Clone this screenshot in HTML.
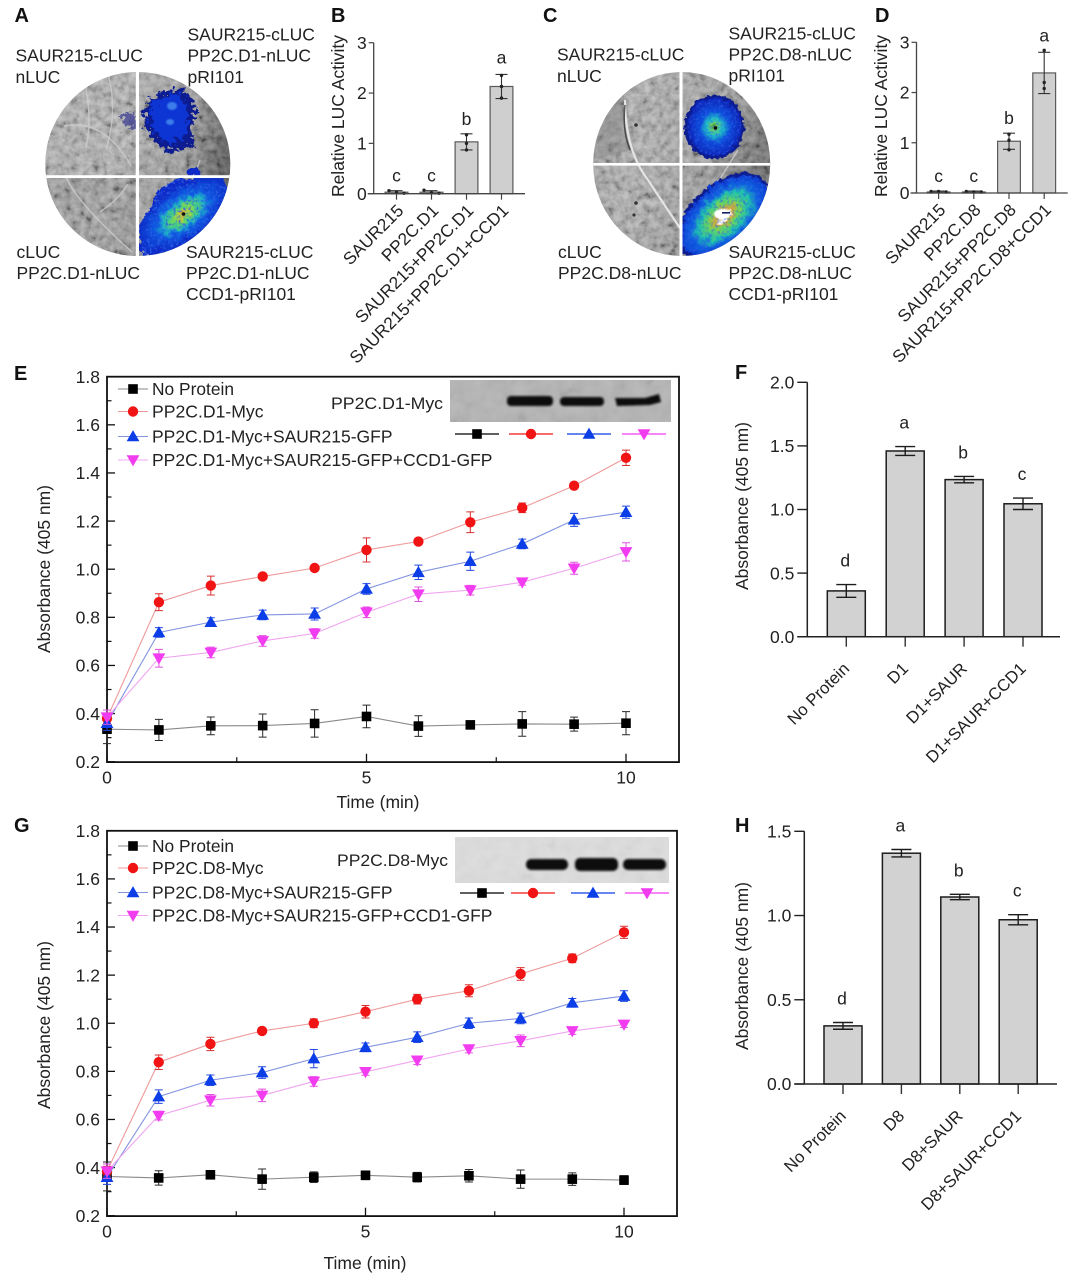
<!DOCTYPE html>
<html>
<head>
<meta charset="utf-8">
<title>LUC activity and absorbance figure</title>
<style>
html,body{margin:0;padding:0;background:#fff;}
svg{display:block;font-family:"Liberation Sans",sans-serif;}
text{fill:#222;}
</style>
</head>
<body>
<svg id="figure" xmlns="http://www.w3.org/2000/svg" width="1080" height="1276" viewBox="0 0 1080 1276">
<defs>
<filter id="leafNoise" x="0" y="0" width="100%" height="100%">
<feTurbulence type="fractalNoise" baseFrequency="0.14" numOctaves="4" seed="4"/>
<feColorMatrix type="matrix" values="1.1 1.1 0 0 -0.6 1.1 1.1 0 0 -0.6 1.1 1.1 0 0 -0.6 0 0 0 0 0.34"/>
</filter>
<filter id="blotNoise" x="0" y="0" width="100%" height="100%">
<feTurbulence type="fractalNoise" baseFrequency="0.07" numOctaves="3" seed="9"/>
<feColorMatrix type="matrix" values="1.2 1.2 0 0 -0.7 1.2 1.2 0 0 -0.7 1.2 1.2 0 0 -0.7 0 0 0 0 0.55"/>
</filter>
<filter id="rough" x="-20%" y="-20%" width="140%" height="140%">
<feTurbulence type="fractalNoise" baseFrequency="0.16" numOctaves="3" seed="7"/>
<feDisplacementMap in="SourceGraphic" scale="12" xChannelSelector="R" yChannelSelector="G"/>
</filter>
<filter id="rough3" x="-30%" y="-30%" width="160%" height="160%">
<feTurbulence type="fractalNoise" baseFrequency="0.2" numOctaves="3" seed="3"/>
<feDisplacementMap in="SourceGraphic" scale="17" xChannelSelector="R" yChannelSelector="G"/>
</filter>
<filter id="rough2" x="-20%" y="-20%" width="140%" height="140%">
<feTurbulence type="fractalNoise" baseFrequency="0.22" numOctaves="2" seed="11"/>
<feDisplacementMap in="SourceGraphic" scale="7" xChannelSelector="R" yChannelSelector="G"/>
</filter>
<filter id="speckle" x="0" y="0" width="100%" height="100%">
<feTurbulence type="fractalNoise" baseFrequency="0.38" numOctaves="2" seed="5"/>
<feColorMatrix type="matrix" values="0 0 0 0 0.03 0 0 0 0 0.12 0 0 0 0 0.8 3.2 3.2 0 0 -3.2"/>
<feComposite operator="in" in2="SourceGraphic"/>
</filter>
<filter id="bandBlur" x="-10%" y="-50%" width="120%" height="200%"><feGaussianBlur stdDeviation="1.1"/></filter>
<filter id="soft" x="-10%" y="-10%" width="120%" height="120%"><feGaussianBlur stdDeviation="0.7"/></filter>
<clipPath id="clipA"><ellipse cx="137.8" cy="164" rx="92.5" ry="92"/></clipPath>
<clipPath id="clipC"><ellipse cx="681.7" cy="164" rx="88.5" ry="92"/></clipPath>
<clipPath id="clipABR"><rect x="139" y="177" width="95" height="82"/></clipPath>
<clipPath id="clipCBR"><rect x="682" y="165" width="95" height="95"/></clipPath>
<linearGradient id="leafAShade" x1="0" y1="0" x2="1" y2="0.2">
<stop offset="0" stop-color="#a6a6a6"/><stop offset="0.45" stop-color="#aaaaaa"/><stop offset="0.8" stop-color="#8c8c8c"/><stop offset="1" stop-color="#3e3e3e"/>
</linearGradient>
<linearGradient id="leafCShade" x1="0" y1="0" x2="1" y2="0.3">
<stop offset="0" stop-color="#999999"/><stop offset="0.4" stop-color="#a8a8a8"/><stop offset="0.75" stop-color="#8e8e8e"/><stop offset="1" stop-color="#565656"/>
</linearGradient>
<radialGradient id="hotA">
<stop offset="0" stop-color="#d89a30"/><stop offset="0.12" stop-color="#b8d040"/><stop offset="0.28" stop-color="#5ad868"/><stop offset="0.46" stop-color="#1cb0c8"/><stop offset="0.62" stop-color="#0c58e0"/><stop offset="1" stop-color="#0a2cc8"/>
</radialGradient>
<radialGradient id="hotC">
<stop offset="0" stop-color="#ffffff"/><stop offset="0.14" stop-color="#ffffff"/><stop offset="0.2" stop-color="#d8a838"/><stop offset="0.36" stop-color="#66d860"/><stop offset="0.58" stop-color="#1ec0b0"/><stop offset="0.76" stop-color="#1060e0"/><stop offset="1" stop-color="#0a38d0"/>
</radialGradient>
<radialGradient id="warmC">
<stop offset="0" stop-color="#2a7030"/><stop offset="0.1" stop-color="#70d060"/><stop offset="0.3" stop-color="#20c0c8"/><stop offset="0.55" stop-color="#0c4cdc"/><stop offset="1" stop-color="#0a24b8"/>
</radialGradient>
</defs>
<rect x="0" y="0" width="1080" height="1276" fill="#ffffff"/>

<g>
<g clip-path="url(#clipA)">
<rect x="44" y="70" width="190" height="190" fill="url(#leafAShade)"/>
<rect x="44" y="177" width="94" height="82" fill="#6e6e6e" opacity="0.35"/>
<rect x="44" y="70" width="190" height="190" filter="url(#leafNoise)"/>
<g fill="none" stroke="#d2d2d2" stroke-width="1.5" opacity="0.7">
<path d="M64 126 Q104 118 131 166"/><path d="M86 90 Q92 120 86 148"/><path d="M66 176 Q74 200 132 252"/><path d="M100 212 Q118 200 128 184"/><path d="M150 254 Q190 190 200 160"/><path d="M108 74 Q118 110 106 150"/>
</g>
<path d="M122 112 L134 112 L136 128 L124 128 Z" fill="#24248a" filter="url(#rough3)" opacity="0.6"/>
<path d="M160 92 L184 88 L194 104 L194 128 L192 146 L172 152 L158 146 L146 128 L144 108 Z" fill="#0a1c90" filter="url(#rough3)"/>
<path d="M162 96 L182 94 L188 112 L186 134 L170 146 L152 128 L148 110 Z" fill="#0c34d4" filter="url(#rough3)"/>
<ellipse cx="172" cy="106" rx="5" ry="4" fill="#4a90f0" opacity="0.8" filter="url(#soft)"/>
<ellipse cx="170" cy="122" rx="4" ry="3" fill="#4a90f0" opacity="0.8" filter="url(#soft)"/>
<g clip-path="url(#clipABR)">
<path d="M140 256 L146 228 L158 190 L178 178 L226 186 L232 210 L208 238 L170 254 Z" fill="#0a2cc8" filter="url(#rough)"/>
<ellipse cx="183" cy="214" rx="52" ry="26" transform="rotate(-36 183 214)" fill="url(#hotA)" filter="url(#rough)"/>
<path d="M140 256 L146 228 L158 190 L178 178 L226 186 L232 210 L208 238 L170 254 Z" fill="#fff" filter="url(#speckle)" opacity="0.8"/>
</g>
<ellipse cx="194" cy="172" rx="7" ry="4" fill="#0a2cc8" filter="url(#rough2)"/>
<circle cx="183.500" cy="214" r="1.800" fill="#111"/>
<rect x="135.800" y="68" width="3.200" height="192" fill="#ffffff"/>
<rect x="44" y="175.200" width="190" height="2.800" fill="#ffffff"/>
</g>
</g>

<g>
<g clip-path="url(#clipC)">
<rect x="590" y="70" width="184" height="190" fill="url(#leafCShade)"/>
<rect x="590" y="70" width="184" height="190" filter="url(#leafNoise)"/>
<path d="M626 78 Q620 120 632 150 L592 160 L592 80 Z" fill="#777" opacity="0.35"/>
<path d="M625 100 Q625 150 648 180 Q665 206 680 228" fill="none" stroke="#e4e4e4" stroke-width="2.200"/>
<path d="M625 105 Q622 130 630 150" fill="none" stroke="#2c2c2c" stroke-width="1.500" opacity="0.75"/>
<path d="M686 236 Q714 188 738 150" fill="none" stroke="#d4d4d4" stroke-width="1.500" opacity="0.7"/>
<circle cx="636" cy="125" r="1.800" fill="#333"/><circle cx="636" cy="203" r="1.800" fill="#333"/><circle cx="634" cy="215" r="1.600" fill="#333"/>
<ellipse cx="714.500" cy="127" rx="30" ry="32" fill="#0a1c90" filter="url(#rough2)"/>
<ellipse cx="714.500" cy="127" rx="27" ry="29" fill="url(#warmC)" filter="url(#rough2)"/>
<ellipse cx="714.500" cy="127" rx="27" ry="29" fill="#fff" filter="url(#speckle)" opacity="0.55"/>
<circle cx="715.500" cy="128" r="1.800" fill="#111"/>
<g clip-path="url(#clipCBR)">
<ellipse cx="723" cy="217" rx="55" ry="33" transform="rotate(-42 723 217)" fill="#0a1c90" filter="url(#rough2)"/>
<ellipse cx="724" cy="216" rx="52" ry="30" transform="rotate(-42 724 216)" fill="url(#hotC)" filter="url(#rough)"/>
<ellipse cx="724" cy="216" rx="52" ry="30" transform="rotate(-42 724 216)" fill="#fff" filter="url(#speckle)" opacity="0.6"/>
</g>
<ellipse cx="722" cy="214" rx="8" ry="5" fill="#ffffff" filter="url(#soft)"/>
<rect x="722" y="212" width="8" height="1.600" fill="#142060"/>
<rect x="679.500" y="68" width="3" height="192" fill="#ffffff"/>
<rect x="590" y="163" width="184" height="2.600" fill="#ffffff"/>
</g>
</g>

<g font-size="17.500">
<text x="14.500" y="22" font-size="20" font-weight="bold" style="fill:#111">A</text>
<text x="15.500" y="61.300">SAUR215-cLUC</text>
<text x="15.500" y="83">nLUC</text>
<text x="187.500" y="40.500">SAUR215-cLUC</text>
<text x="187.500" y="61.500">PP2C.D1-nLUC</text>
<text x="187.500" y="83">pRI101</text>
<text x="16.500" y="258">cLUC</text>
<text x="16.500" y="279">PP2C.D1-nLUC</text>
<text x="186" y="258">SAUR215-cLUC</text>
<text x="186" y="279">PP2C.D1-nLUC</text>
<text x="186" y="300">CCD1-pRI101</text>
</g>
<g font-size="17.500">
<text x="543" y="22" font-size="20" font-weight="bold" style="fill:#111">C</text>
<text x="557" y="60.500">SAUR215-cLUC</text>
<text x="557" y="82">nLUC</text>
<text x="728.500" y="39.500">SAUR215-cLUC</text>
<text x="728.500" y="60.500">PP2C.D8-nLUC</text>
<text x="728.500" y="81.500">pRI101</text>
<text x="558" y="258">cLUC</text>
<text x="558" y="279">PP2C.D8-nLUC</text>
<text x="728.500" y="258">SAUR215-cLUC</text>
<text x="728.500" y="279">PP2C.D8-nLUC</text>
<text x="728.500" y="300">CCD1-pRI101</text>
</g>

<g>
<rect x="450" y="380" width="221" height="42" fill="#b4b4b4"/>
<rect x="450" y="380" width="221" height="42" filter="url(#blotNoise)" opacity="0.12"/>
<rect x="507" y="396" width="46" height="10" rx="4" fill="#0c0c0c" filter="url(#bandBlur)"/>
<rect x="560" y="397" width="44" height="9" rx="4" fill="#0c0c0c" filter="url(#bandBlur)"/>
<path d="M615 398 L645 398 L659 394 L661 402 L650 405 L617 406 Z" fill="#0c0c0c" filter="url(#bandBlur)"/>
<text x="331" y="409" font-size="17" textLength="112" lengthAdjust="spacingAndGlyphs">PP2C.D1-Myc</text>
</g>
<g>
<rect x="455" y="837" width="214" height="46" fill="#dcdcdc"/>
<rect x="455" y="837" width="214" height="46" filter="url(#blotNoise)" opacity="0.08"/>
<rect x="526" y="859" width="42" height="11" rx="5" fill="#0c0c0c" filter="url(#bandBlur)"/>
<rect x="575" y="858" width="43" height="13" rx="5" fill="#0c0c0c" filter="url(#bandBlur)"/>
<rect x="623" y="859" width="43" height="11" rx="5" fill="#0c0c0c" filter="url(#bandBlur)"/>
<text x="337" y="866" font-size="17" textLength="111" lengthAdjust="spacingAndGlyphs">PP2C.D8-Myc</text>
</g>
<g id="charts"></g>
</svg>

<script>
// ---- Panel B: relative LUC activity ----
const bCategories = ['SAUR215', 'PP2C.D1', 'SAUR215+PP2C.D1', 'SAUR215+PP2C.D1+CCD1'];
const bValues = [0.03, 0.03, 1.03, 2.13];
const bErrors = [0.03, 0.03, 0.16, 0.24];
const bLetters = ['c', 'c', 'b', 'a'];
const bDotsA = [0.06, 0.07, 0.87, 1.90];
const bDotsB = [0.03, 0.02, 1.00, 2.13];
const bDotsC = [0.01, 0.01, 1.17, 2.35];
const bTicks = [0, 1, 2, 3];

// ---- Panel D: relative LUC activity ----
const dCategories = ['SAUR215', 'PP2C.D8', 'SAUR215+PP2C.D8', 'SAUR215+PP2C.D8+CCD1'];
const dValues = [0.02, 0.02, 1.03, 2.39];
const dErrors = [0.02, 0.02, 0.16, 0.41];
const dLetters = ['c', 'c', 'b', 'a'];
const dDotsA = [0.03, 0.03, 0.86, 2.84];
const dDotsB = [0.03, 0.02, 1.05, 2.20];
const dDotsC = [0.02, 0.02, 1.17, 2.08];
const dTicks = [0, 1, 2, 3];

// ---- Panel E: time course ----
const eTime = [0, 1, 2, 3, 4, 5, 6, 7, 8, 9, 10];
const eLegend = ['No Protein', 'PP2C.D1-Myc', 'PP2C.D1-Myc+SAUR215-GFP', 'PP2C.D1-Myc+SAUR215-GFP+CCD1-GFP'];
const eBlack = [0.335, 0.332, 0.349, 0.350, 0.359, 0.388, 0.348, 0.353, 0.357, 0.356, 0.360];
const eBlackErr = [0.060, 0.044, 0.037, 0.048, 0.057, 0.047, 0.043, 0.012, 0.051, 0.029, 0.048];
const eRed = [0.380, 0.863, 0.932, 0.970, 1.005, 1.080, 1.115, 1.195, 1.255, 1.347, 1.463];
const eRedErr = [0.020, 0.035, 0.039, 0.012, 0.010, 0.050, 0.012, 0.043, 0.020, 0.012, 0.032];
const eBlue = [0.360, 0.737, 0.780, 0.810, 0.814, 0.918, 0.987, 1.033, 1.105, 1.205, 1.237];
const eBlueErr = [0.030, 0.020, 0.018, 0.020, 0.025, 0.022, 0.030, 0.038, 0.020, 0.027, 0.025];
const eMagenta = [0.385, 0.630, 0.654, 0.702, 0.733, 0.821, 0.896, 0.913, 0.946, 1.004, 1.072];
const eMagentaErr = [0.030, 0.037, 0.022, 0.022, 0.020, 0.022, 0.030, 0.020, 0.012, 0.025, 0.038];

// ---- Panel G: time course ----
const gTime = [0, 1, 2, 3, 4, 5, 6, 7, 8, 9, 10];
const gLegend = ['No Protein', 'PP2C.D8-Myc', 'PP2C.D8-Myc+SAUR215-GFP', 'PP2C.D8-Myc+SAUR215-GFP+CCD1-GFP'];
const gBlack = [0.363, 0.357, 0.370, 0.352, 0.360, 0.368, 0.360, 0.366, 0.352, 0.352, 0.348];
const gBlackErr = [0.060, 0.030, 0.015, 0.042, 0.022, 0.018, 0.020, 0.026, 0.038, 0.026, 0.018];
const gRed = [0.385, 0.838, 0.914, 0.968, 1.000, 1.048, 1.100, 1.135, 1.205, 1.270, 1.378];
const gRedErr = [0.020, 0.030, 0.028, 0.012, 0.018, 0.026, 0.020, 0.025, 0.026, 0.018, 0.025];
const gBlue = [0.360, 0.695, 0.763, 0.795, 0.853, 0.900, 0.942, 1.000, 1.020, 1.085, 1.113];
const gBlueErr = [0.030, 0.028, 0.022, 0.024, 0.038, 0.018, 0.022, 0.022, 0.022, 0.018, 0.022];
const gMagenta = [0.385, 0.616, 0.680, 0.700, 0.758, 0.798, 0.846, 0.893, 0.927, 0.968, 0.995];
const gMagentaErr = [0.030, 0.018, 0.024, 0.026, 0.020, 0.014, 0.018, 0.016, 0.024, 0.014, 0.012];

// ---- Panel F: absorbance bars ----
const fCategories = ['No Protein', 'D1', 'D1+SAUR', 'D1+SAUR+CCD1'];
const fValues = [0.36, 1.46, 1.235, 1.045];
const fErrors = [0.05, 0.035, 0.025, 0.045];
const fLetters = ['d', 'a', 'b', 'c'];
const fTicks = ['0.0', '0.5', '1.0', '1.5', '2.0'];

// ---- Panel H: absorbance bars ----
const hCategories = ['No Protein', 'D8', 'D8+SAUR', 'D8+SAUR+CCD1'];
const hValues = [0.345, 1.37, 1.11, 0.975];
const hErrors = [0.02, 0.022, 0.016, 0.03];
const hLetters = ['d', 'a', 'b', 'c'];
const hTicks = ['0.0', '0.5', '1.0', '1.5'];

const lineYTicks = ['0.2', '0.4', '0.6', '0.8', '1.0', '1.2', '1.4', '1.6', '1.8'];
const lineYMinor = [0.3, 0.5, 0.7, 0.9, 1.1, 1.3, 1.5, 1.7];
const lineXTicks = [0, 5, 10];
const lineXMinor = [2.5, 7.5];

const NS = 'http://www.w3.org/2000/svg';
const root = document.getElementById('charts');

function el(tag, attrs, parent) {
  const e = document.createElementNS(NS, tag);
  for (const k in attrs) e.setAttribute(k, attrs[k]);
  parent.appendChild(e);
  return e;
}
function label(s, x, y, attrs, parent) {
  const e = el('text', Object.assign({x: x, y: y}, attrs), parent);
  e.textContent = s;
  return e;
}
function scale(d0, d1, r0, r1) {
  return function (v) { return r0 + (v - d0) * (r1 - r0) / (d1 - d0); };
}
function marker(kind, x, y, color, parent) {
  if (kind === 'square') return el('rect', {x: x - 4.8, y: y - 4.8, width: 9.6, height: 9.6, fill: color}, parent);
  if (kind === 'circle') return el('circle', {cx: x, cy: y, r: 5.2, fill: color}, parent);
  if (kind === 'up') return el('polygon', {points: (x - 6.4) + ',' + (y + 4.8) + ' ' + (x + 6.4) + ',' + (y + 4.8) + ' ' + x + ',' + (y - 6.4), fill: color}, parent);
  return el('polygon', {points: (x - 6.4) + ',' + (y - 4.8) + ' ' + (x + 6.4) + ',' + (y - 4.8) + ' ' + x + ',' + (y + 6.4), fill: color}, parent);
}

// small LUC bar chart (panels B, D)
function drawLucChart(o) {
  const g = el('g', {}, root);
  
  
  const y = scale(0, 3, o.y0, o.y3);
  const letter = label(o.letter, o.letterX, 22, {'font-size': 20, 'font-weight': 'bold', style: 'fill:#111'}, g);
  
  
  const title = label('Relative LUC Activity', 0, 0, {'font-size': 17.5, 'text-anchor': 'middle', transform: 'translate(' + o.titleX + ',116) rotate(-90)', textLength: 162, lengthAdjust: 'spacingAndGlyphs'}, g);
  
  
  o.values.forEach(function (v, i) {
    const cx = o.centers[0] + i * o.step;
    const bar = el('rect', {x: cx - 11.4, y: y(v), width: 22.8, height: o.y0 - y(v), fill: '#cfcfcf', stroke: '#5a5a5a', 'stroke-width': 1.2}, g);
    
    
    const errPath = 'M' + cx + ' ' + y(v + o.errors[i]) + 'V' + y(Math.max(0, v - o.errors[i])) +
      'M' + (cx - 6) + ' ' + y(v + o.errors[i]) + 'h12M' + (cx - 6) + ' ' + y(Math.max(0, v - o.errors[i])) + 'h12';
    const err = el('path', {d: errPath, fill: 'none', stroke: '#333', 'stroke-width': 1.1}, g);
    
    
    const group = [o.dotsA[i], o.dotsB[i], o.dotsC[i]];
    const spread = Math.max.apply(null, group) - Math.min.apply(null, group);
    group.forEach(function (d, j) {
      const dot = el('circle', {cx: cx + (spread < 0.2 ? (j - 1) * 7.5 : 0), cy: y(d), r: 1.7, fill: '#222'}, g);
      
      
    });
    const sig = label(o.letters[i], cx, y(v + o.errors[i]) - (v > 2 ? 11 : 9), {'font-size': 17.5, 'text-anchor': 'middle'}, g);
    
    
    const tick = el('line', {x1: cx, x2: cx, y1: o.y0, y2: o.y0 + 6, stroke: '#444', 'stroke-width': 1.2}, g);
    
    
    const cat = label(o.categories[i], 0, 0, {'font-size': 17.3, 'text-anchor': 'end', transform: 'translate(' + (cx + 8) + ',' + (o.y0 + 18) + ') rotate(-45)'}, g);
    
    
  });
  const axes = el('path', {d: 'M' + o.left + ' ' + o.y3 + 'V' + o.y0 + 'M' + (o.left - 6) + ' ' + o.y0 + 'H' + o.right, fill: 'none', stroke: '#444', 'stroke-width': 1.3}, g);
  
  
  o.ticks.forEach(function (t) {
    const tick = el('line', {x1: o.left - 5, x2: o.left, y1: y(t), y2: y(t), stroke: '#444', 'stroke-width': 1.2}, g);
    
    
    const tl = label(String(t), o.left - 7, y(t) + 6.2, {'font-size': 17.5, 'text-anchor': 'end'}, g);
    
    
  });
}

// absorbance bar chart (panels F, H)
function drawAbsChart(o) {
  const g = el('g', {}, root);
  
  
  const y = scale(0, Number(o.ticks[o.ticks.length - 1]), o.y0, o.yTop);
  const letter = label(o.letter, o.letterX, o.letterY, {'font-size': 20, 'font-weight': 'bold', style: 'fill:#111'}, g);
  
  
  const title = label('Absorbance (405 nm)', 0, 0, {'font-size': 17.5, 'text-anchor': 'middle', transform: 'translate(' + o.titleX + ',' + o.titleY + ') rotate(-90)', textLength: 168, lengthAdjust: 'spacingAndGlyphs'}, g);
  
  
  o.values.forEach(function (v, i) {
    const cx = o.c0 + i * o.step;
    const bar = el('rect', {x: cx - 19, y: y(v), width: 38, height: o.y0 - y(v), fill: '#d2d2d2', stroke: '#1c1c1c', 'stroke-width': 1.5}, g);
    
    
    const hi = y(v + o.errors[i]);
    const lo = y(v - o.errors[i]);
    const err = el('path', {d: 'M' + cx + ' ' + hi + 'V' + lo + 'M' + (cx - 10) + ' ' + hi + 'h20M' + (cx - 10) + ' ' + lo + 'h20', fill: 'none', stroke: '#1c1c1c', 'stroke-width': 1.4}, g);
    
    
    const sig = label(o.letters[i], cx - 1, hi - 18, {'font-size': 17.5, 'text-anchor': 'middle'}, g);
    
    
    const tick = el('line', {x1: cx, x2: cx, y1: o.y0, y2: o.y0 + 10, stroke: '#333', 'stroke-width': 1.4}, g);
    
    
    const cat = label(o.categories[i], 0, 0, {'font-size': 16.8, 'text-anchor': 'end', transform: 'translate(' + (cx + 4) + ',' + (o.y0 + 33) + ') rotate(-45)'}, g);
    
    
  });
  const axes = el('path', {d: 'M' + o.left + ' ' + o.yTop + 'V' + o.y0 + 'M' + (o.left - 10) + ' ' + o.y0 + 'H' + o.right, fill: 'none', stroke: '#222', 'stroke-width': 1.5}, g);
  
  
  o.ticks.forEach(function (t) {
    const ty = y(Number(t));
    const tick = el('line', {x1: o.left - 10, x2: o.left, y1: ty, y2: ty, stroke: '#222', 'stroke-width': 1.4}, g);
    
    
    const tl = label(t, o.left - 13, ty + 6.2, {'font-size': 17.5, 'text-anchor': 'end'}, g);
    
    
  });
}

// time-course chart (panels E, G)
function drawLineChart(o) {
  const g = el('g', {}, root);
  
  
  const x = scale(0, 10, o.left, o.x10);
  const y = scale(0.2, 1.8, o.bottom, o.top);
  const letter = label(o.letter, 14, o.letterY, {'font-size': 20, 'font-weight': 'bold', style: 'fill:#111'}, g);
  
  
  const box = el('rect', {x: o.left, y: o.top, width: o.right - o.left, height: o.bottom - o.top + 0.4, fill: 'none', stroke: '#111', 'stroke-width': 1.8}, g);
  
  
  lineYTicks.forEach(function (t) {
    const ty = y(Number(t));
    const tick = el('line', {x1: o.left, x2: o.left + 8, y1: ty, y2: ty, stroke: '#111', 'stroke-width': 1.3}, g);
    
    
    const tl = label(t, 100, ty + 6.2, {'font-size': 17.5, 'text-anchor': 'end'}, g);
    
    
  });
  lineYMinor.forEach(function (t) {
    const tick = el('line', {x1: o.left, x2: o.left + 4.5, y1: y(t), y2: y(t), stroke: '#111', 'stroke-width': 1.2}, g);
    
    
  });
  lineXTicks.forEach(function (t) {
    const tick = el('line', {x1: x(t), x2: x(t), y1: o.bottom, y2: o.bottom - 8, stroke: '#111', 'stroke-width': 1.3}, g);
    
    
    const tl = label(String(t), x(t), o.bottom + 22, {'font-size': 17.5, 'text-anchor': 'middle'}, g);
    
    
  });
  lineXMinor.forEach(function (t) {
    const tick = el('line', {x1: x(t), x2: x(t), y1: o.bottom, y2: o.bottom - 4.5, stroke: '#111', 'stroke-width': 1.2}, g);
    
    
  });
  const xTitle = label('Time (min)', o.xTitleX, o.xTitleY, {'font-size': 17.5, 'text-anchor': 'middle', textLength: 83, lengthAdjust: 'spacingAndGlyphs'}, g);
  
  
  const yTitle = label('Absorbance (405 nm)', 0, 0, {'font-size': 17.5, 'text-anchor': 'middle', transform: 'translate(50,' + o.yTitleY + ') rotate(-90)', textLength: 168, lengthAdjust: 'spacingAndGlyphs'}, g);
  
  

  o.series.forEach(function (s) {
    const sg = el('g', {}, g);
    
    
    const pts = s.values.map(function (v, i) { return x(o.time[i]) + ',' + y(v); }).join(' ');
    const line = el('polyline', {points: pts, fill: 'none', stroke: s.line, 'stroke-width': 1.1}, sg);
    
    
    s.values.forEach(function (v, i) {
      const px = x(o.time[i]);
      const hi = y(v + s.errors[i]);
      const lo = y(v - s.errors[i]);
      const err = el('path', {d: 'M' + px + ' ' + hi + 'V' + lo + 'M' + (px - 4) + ' ' + hi + 'h8M' + (px - 4) + ' ' + lo + 'h8', fill: 'none', stroke: s.err, 'stroke-width': 1}, sg);
      
      
      const m = marker(s.kind, px, y(v), s.color, sg);
      
      
    });
  });

  o.series.forEach(function (s, i) {
    const ly = o.legendY[i];
    const lineEl = el('line', {x1: 118, x2: 148, y1: ly, y2: ly, stroke: s.line, 'stroke-width': 1.1}, g);
    
    
    const lm = marker(s.kind, 133, ly, s.color, g);
    
    
    const lt = label(o.legend[i], 152, ly + 6.2, {'font-size': 17.5, textLength: o.legendW[i], lengthAdjust: 'spacingAndGlyphs'}, g);
    
    
    const cx = o.laneX[i];
    const seg = el('line', {x1: cx - 22, x2: cx + 22, y1: o.laneY, y2: o.laneY, stroke: s.color, 'stroke-width': 1.3}, g);
    
    
    const sm = marker(s.kind, cx, o.laneY, s.color, g);
    
    
  });
}

drawLucChart({name: 'chart-b', letter: 'B', letterX: 331, titleX: 344, y0: 193.7, y3: 42.7, left: 373.7, right: 525, centers: [396.5], step: 35, values: bValues, errors: bErrors, categories: bCategories, letters: bLetters, dotsA: bDotsA, dotsB: bDotsB, dotsC: bDotsC, ticks: bTicks});
drawLucChart({name: 'chart-d', letter: 'D', letterX: 875, titleX: 887, y0: 193, y3: 42.3, left: 916.5, right: 1067.7, centers: [938.6], step: 35.2, values: dValues, errors: dErrors, categories: dCategories, letters: dLetters, dotsA: dDotsA, dotsB: dDotsB, dotsC: dDotsC, ticks: dTicks});

drawLineChart({
  name: 'chart-e', letter: 'E', letterY: 380, left: 107, x10: 626, right: 679, top: 376.7, bottom: 761.7,
  xTitleX: 378, xTitleY: 808, yTitleY: 569, time: eTime, legend: eLegend,
  legendY: [389, 411.5, 436.5, 460], legendW: [82, 111.5, 240.5, 340.5], laneX: [477, 531, 589, 644], laneY: 434,
  series: [
    {key: 'no-protein', kind: 'square', color: '#000000', line: '#8a8a8a', err: '#2a2a2a', values: eBlack, errors: eBlackErr},
    {key: 'pp2c-d1', kind: 'circle', color: '#f01414', line: '#ee9a9a', err: '#d83030', values: eRed, errors: eRedErr},
    {key: 'pp2c-d1-saur215', kind: 'up', color: '#0c3ee8', line: '#8294e0', err: '#2448e0', values: eBlue, errors: eBlueErr},
    {key: 'pp2c-d1-saur215-ccd1', kind: 'down', color: '#f23cf0', line: '#f0a4f0', err: '#e050e0', values: eMagenta, errors: eMagentaErr}
  ]
});
drawLineChart({
  name: 'chart-g', letter: 'G', letterY: 832, left: 107, x10: 624, right: 677, top: 830.8, bottom: 1215.7,
  xTitleX: 365, xTitleY: 1269, yTitleY: 1025, time: gTime, legend: gLegend,
  legendY: [846, 868, 892.5, 915.5], legendW: [82, 111.5, 240.5, 340.5], laneX: [482, 533, 593, 647], laneY: 893,
  series: [
    {key: 'no-protein', kind: 'square', color: '#000000', line: '#8a8a8a', err: '#2a2a2a', values: gBlack, errors: gBlackErr},
    {key: 'pp2c-d8', kind: 'circle', color: '#f01414', line: '#ee9a9a', err: '#d83030', values: gRed, errors: gRedErr},
    {key: 'pp2c-d8-saur215', kind: 'up', color: '#0c3ee8', line: '#8294e0', err: '#2448e0', values: gBlue, errors: gBlueErr},
    {key: 'pp2c-d8-saur215-ccd1', kind: 'down', color: '#f23cf0', line: '#f0a4f0', err: '#e050e0', values: gMagenta, errors: gMagentaErr}
  ]
});

drawAbsChart({name: 'chart-f', letter: 'F', letterX: 735, letterY: 379, titleX: 748, titleY: 506, y0: 636.7, yTop: 382.3, left: 807.3, right: 1060, c0: 846.3, step: 58.9, values: fValues, errors: fErrors, categories: fCategories, letters: fLetters, ticks: fTicks});
drawAbsChart({name: 'chart-h', letter: 'H', letterX: 735, letterY: 832, titleX: 748, titleY: 966, y0: 1084, yTop: 831.3, left: 804.3, right: 1057, c0: 843, step: 58.4, values: hValues, errors: hErrors, categories: hCategories, letters: hLetters, ticks: hTicks});
</script>
</body>
</html>
